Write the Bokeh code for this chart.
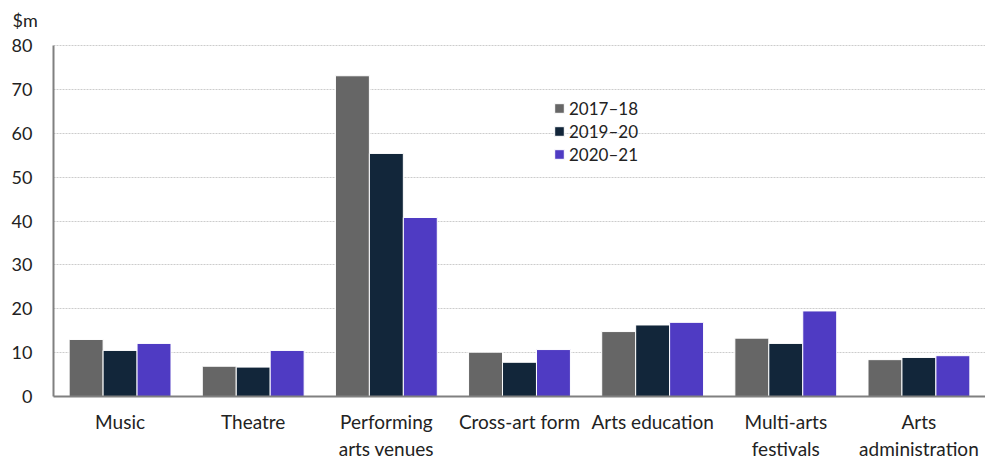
from bokeh.plotting import figure
from bokeh.models import ColumnDataSource, FactorRange, Legend, LegendItem, SingleIntervalTicker, Title
from bokeh.transform import dodge
from bokeh.embed import file_html
from bokeh.resources import INLINE

categories = ["Music", "Theatre", "Performing\narts venues", "Cross-art form",
              "Arts education", "Multi-arts\nfestivals", "Arts\nadministration"]
series_names = ["2017\u201318", "2019\u201320", "2020\u201321"]
v_2017_18 = [13.0, 6.9, 73.1, 10.1, 14.8, 13.3, 8.4]
v_2019_20 = [10.5, 6.7, 55.4, 7.8, 16.3, 12.1, 8.9]
v_2020_21 = [12.1, 10.5, 40.8, 10.7, 16.9, 19.5, 9.3]
colors = ["#666666", "#12263a", "#4f3bc3"]
y_ticks_step = 10
y_max = 80
unit_label = "$m"

FONT = "Lato"

source = ColumnDataSource(dict(cat=categories, a=v_2017_18, b=v_2019_20, c=v_2020_21))

px_per_unit = 351 / y_max
head_px = 11
p = figure(x_range=FactorRange(*categories, range_padding=0),
           y_range=(0, y_max + head_px / px_per_unit),
           frame_width=932, frame_height=351 + head_px, output_backend="svg", toolbar_location=None,
           min_border_left=53, min_border_right=0, min_border_top=34, min_border_bottom=67)
p.outline_line_color = None

bw = 0.255
renderers = []
for key, off, col in zip(["a", "b", "c"], [-bw, 0, bw], colors):
    r = p.vbar(x=dodge("cat", off, range=p.x_range), top=key, width=bw, source=source,
               fill_color=col, line_color="white", line_width=1)
    renderers.append(r)

legend = Legend(items=[LegendItem(label=n, renderers=[r]) for n, r in zip(series_names, renderers)],
                location=(500, 231), padding=0, margin=0, spacing=1, label_standoff=4,
                glyph_width=12, glyph_height=12, label_height=22,
                label_text_font=FONT, label_text_font_size="17px", label_text_color="#222222",
                background_fill_alpha=0, border_line_color=None)
p.add_layout(legend, "center")

p.xgrid.grid_line_color = None
p.ygrid.grid_line_color = "#cccccc"
p.ygrid.grid_line_dash = "2 1"
p.ygrid.grid_line_width = 1

p.yaxis.ticker = SingleIntervalTicker(interval=y_ticks_step)
p.yaxis.bounds = (0, y_max)
for ax in (p.xaxis[0], p.yaxis[0]):
    ax.axis_line_color = "#808080"
    ax.axis_line_width = 2
    ax.major_tick_line_color = None
    ax.minor_tick_line_color = None
    ax.major_label_text_font = FONT
    ax.major_label_text_color = "#222222"
p.yaxis.major_label_text_font_size = "18px"
p.xaxis.major_label_text_font_size = "19px"
p.yaxis.major_label_standoff = 15
p.xaxis.major_label_standoff = 7

t = Title(text=unit_label, align="left", offset=-41, standoff=8,
          text_font=FONT, text_font_size="18px",
          text_font_style="normal", text_color="#222222")
p.add_layout(t, "above")

open("out.html", "w").write(file_html(p, INLINE))
